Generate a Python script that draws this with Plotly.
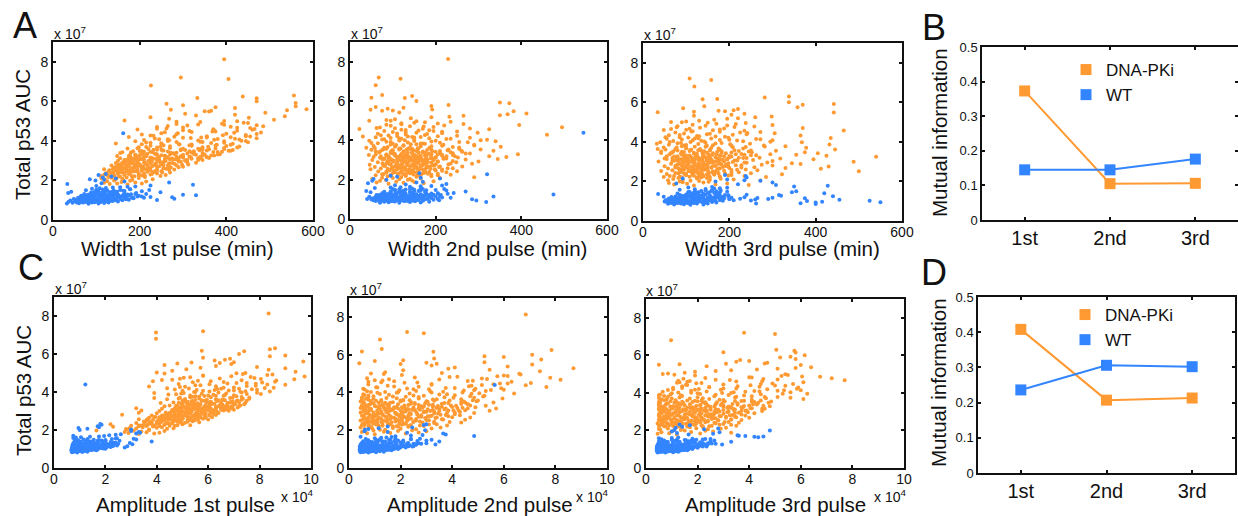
import plotly.graph_objects as go

W, H = 1238, 516
ORANGE, BLUE, INK = "#FF9A33", "#3385FF", "#111111"
FONT = "Liberation Sans"

# Shared y values (Total p53 AUC, x 10^7), one per cell
orange_auc = [
1.79,1.82,1.84,1.85,1.88,1.9,1.92,1.95,1.96,1.98,2.0,2.02,
2.03,2.05,2.06,2.08,2.09,2.1,2.12,2.14,2.15,2.17,2.18,2.2,
2.21,2.22,2.23,2.24,2.25,2.27,2.28,2.3,2.31,2.32,2.34,2.35,
2.36,2.37,2.38,2.4,2.41,2.42,2.43,2.45,2.46,2.47,2.48,2.5,
2.51,2.52,2.53,2.54,2.55,2.56,2.57,2.58,2.59,2.6,2.61,2.62,
2.63,2.64,2.65,2.66,2.67,2.68,2.69,2.7,2.71,2.72,2.73,2.74,
2.75,2.76,2.77,2.78,2.79,2.8,2.81,2.82,2.83,2.84,2.85,2.86,
2.87,2.88,2.89,2.9,2.91,2.92,2.93,2.94,2.95,2.96,2.97,2.98,
2.99,3.0,3.01,3.02,3.03,3.04,3.05,3.06,3.07,3.08,3.09,3.1,
3.11,3.12,3.13,3.14,3.15,3.16,3.17,3.18,3.19,3.2,3.21,3.22,
3.23,3.25,3.26,3.28,3.29,3.3,3.31,3.33,3.34,3.35,3.37,3.38,
3.4,3.42,3.44,3.45,3.47,3.48,3.5,3.52,3.53,3.55,3.57,3.58,
3.6,3.62,3.64,3.66,3.68,3.7,3.72,3.74,3.76,3.78,3.8,3.82,
3.84,3.87,3.9,3.92,3.95,3.98,4.0,4.03,4.06,4.08,4.11,4.14,
4.17,4.2,4.23,4.26,4.29,4.32,4.35,4.38,4.41,4.44,4.47,4.5,
4.53,4.57,4.6,4.63,4.67,4.7,4.74,4.78,4.82,4.86,4.9,4.95,
5.0,5.03,5.07,5.12,5.17,5.2,5.25,5.28,5.32,5.37,5.42,5.48,
5.5,5.52,5.55,5.57,5.6,5.66,5.7,5.75,5.8,5.88,5.92,6.0,
6.15,6.17,6.25,6.3,6.8,7.13,7.2,8.13,
2.205,2.215,2.225,2.235,2.245,2.26,2.275,2.29,2.305,2.325,2.345,2.355,
2.365,2.375,2.39,2.405,2.415,2.435,2.44,2.455,2.465,2.475,2.49,2.495,
2.505,2.515,2.525,2.535,2.545,2.555,2.565,2.575,2.585,2.595,2.605,2.615,
2.625,2.635,2.645,2.655,2.665,2.675,2.685,2.695,2.705,2.715,2.725,2.735,
2.745,2.755,2.765,2.775,2.785,2.795,2.805,2.815,2.825,2.835,2.845,2.855,
2.865,2.875,2.885,2.895,2.905,2.915,2.925,2.935,2.945,2.955,2.965,2.975,
2.985,2.995,3.005,3.015,3.025,3.035,3.045,3.055,3.065,3.075,3.085,3.095,
3.105,3.115,3.125,3.135,3.145,3.155,3.165,3.175,3.185,3.195,3.205,3.215,
3.225,3.24,3.255,3.27,3.285,3.3,3.315,3.33,3.345,3.36,3.375,3.39,
3.41,3.43,3.445,3.46,3.49,3.51,3.525,3.54,3.56,3.575,3.59,3.61,
3.015,3.03,3.05,3.07,3.09,3.105,3.125,3.14,3.155,3.17,3.19,3.205,
3.215,3.235,3.25,3.265,3.28,3.295,3.31,3.325,3.34,3.355,3.37,3.39,
3.405,3.42,3.435,3.455,3.47,3.49,3.505,3.52,3.54,3.555,3.57,3.59,
3.605,3.625,3.64,3.66,3.68,3.695,3.715,3.73,3.75,3.77,3.785,3.8,
3.82,3.835,3.855,3.875,3.89,3.91,3.925,3.945,3.96,3.98,3.995,4.01,
4.025,4.04,4.065,4.08,4.1,4.12,4.135,4.155,4.17,4.19,4.21,4.22,
4.24,4.27,4.3,4.33,4.36,4.39,4.42,4.45,4.48,4.51,4.54,4.56,
4.59,4.62,4.65,4.68,4.71,4.75,4.79,4.83,4.87,4.92,4.97,4.99]

orange_width1 = [
172,131,205,148,118,190,158,215,125,178,141,162,
183,120,230,146,160,112,198,135,170,212,128,152,
188,110,248,142,205,125,260,165,135,228,178,150,
210,122,165,270,138,232,155,128,192,250,172,145,
240,130,195,148,280,118,215,168,262,180,155,205,
165,225,140,272,190,158,300,208,150,245,175,198,
218,135,285,170,255,152,312,200,160,236,185,178,
268,145,212,330,162,248,195,295,180,228,175,220,
222,150,305,188,345,240,170,278,205,258,198,232,
290,155,228,360,192,265,318,175,245,340,210,215,
148,258,372,200,300,178,350,238,325,218,278,208,
272,160,380,210,315,185,405,252,338,232,295,360,
335,172,270,425,198,358,248,400,225,315,378,292,
290,145,395,215,345,190,445,268,372,245,420,318,
342,175,445,232,392,205,470,288,418,258,368,315,
372,195,465,262,425,240,485,310,395,285,450,340,
395,165,510,268,452,225,535,330,420,305,490,360,
350,365,540,272,585,420,375,560,300,262,560,470,
470,333,438,556,226,405,295,395,
155,182,128,212,140,198,165,118,225,175,150,240,
198,140,175,252,160,218,130,185,235,150,205,170,
178,225,148,268,195,160,240,138,210,185,255,170,
220,160,255,185,290,145,205,240,172,268,195,230,
202,265,175,235,155,298,190,250,215,165,280,225,
238,185,275,210,160,310,225,255,195,290,170,245,
260,195,305,225,175,335,245,285,210,270,185,320,
275,205,340,240,180,300,225,355,260,195,315,285,
295,215,365,250,190,330,270,385,235,310,205,345,
320,230,390,265,205,355,295,415,250,340,220,375,
245,165,310,200,285,180,335,225,265,190,355,300,
260,175,345,215,300,190,380,240,280,205,325,155,
285,180,370,225,325,200,410,255,305,240,345,395,
300,195,395,240,345,215,430,270,320,375,255,410,
320,205,415,250,365,225,450,285,340,395,265,435,
335,210,430,265,380,235,470,300,355,410,280,455,
355,225,445,285,400,250,480,320,375,425,300,460,
370,240,455,300,410,265,470,335,390,440,285,425]

orange_width2 = [
90,172,125,62,150,108,195,70,145,84,135,115,
140,52,165,100,210,75,290,120,155,88,190,130,
158,60,205,95,235,130,78,182,112,170,142,118,
176,85,225,120,66,148,250,102,200,135,92,160,
138,215,48,162,98,188,72,240,110,152,125,178,
128,208,58,155,262,105,180,82,168,145,192,118,
198,46,148,230,92,172,285,122,76,160,110,135,
152,248,65,178,100,300,130,205,88,168,118,142,
195,52,150,270,96,175,345,126,220,80,162,140,
165,70,252,138,365,112,190,90,325,148,215,122,
152,44,240,85,392,182,120,280,102,210,135,170,
160,262,60,192,335,98,228,132,305,78,145,118,
158,38,255,88,352,190,125,290,108,218,142,175,
165,50,275,95,340,200,128,320,80,235,115,150,
145,30,250,72,460,180,110,298,130,215,195,160,
130,22,280,62,495,172,95,395,120,205,150,235,
45,85,105,142,190,232,265,350,368,412,115,382,
75,100,48,192,88,125,60,190,230,372,350,155,
128,50,145,75,60,118,67,229,
130,95,165,112,190,148,75,125,205,140,100,172,
155,105,135,185,85,160,120,215,145,92,175,128,
140,170,110,198,130,88,158,118,228,150,100,180,
125,155,98,185,140,210,112,165,78,148,195,135,
168,120,145,95,200,132,175,108,235,152,85,190,
110,158,135,182,90,205,125,170,148,240,102,162,
145,98,175,122,195,155,80,138,218,165,112,188,
128,165,92,200,142,110,178,155,72,225,135,105,
175,118,150,85,205,132,185,100,240,160,68,145,
95,170,125,210,148,75,190,115,255,135,160,58,
110,180,75,225,135,90,200,160,55,120,245,150,
165,85,130,215,60,190,105,270,145,95,175,235,
125,200,70,155,260,100,180,50,230,140,85,115,
185,80,140,240,105,165,55,215,125,290,95,155,
100,170,65,210,135,255,85,190,150,45,115,305,
150,75,225,120,185,95,280,60,165,135,205,110,
90,175,130,65,215,155,100,250,80,185,120,325,
170,105,70,195,140,220,85,265,120,175,155,95]

orange_width3 = [
118,245,72,168,102,195,60,140,92,152,85,130,
110,272,58,155,92,210,70,180,125,148,82,135,
128,285,48,178,85,235,62,152,100,205,115,165,
138,322,55,190,95,250,75,160,112,222,125,172,
120,500,42,172,108,265,68,205,88,238,135,148,
125,412,58,175,82,330,98,228,140,258,150,198,
118,430,50,168,75,300,92,215,130,275,142,192,
132,365,65,180,85,345,105,240,120,288,155,208,
112,488,36,162,98,300,80,218,148,255,138,185,
128,395,55,175,78,318,95,232,112,270,150,200,
138,540,72,188,122,425,108,250,160,355,215,295,
125,405,42,182,68,375,90,245,142,308,155,212,
112,445,34,175,100,378,78,238,145,330,205,280,
100,432,32,168,88,368,62,232,135,300,200,262,
120,435,52,190,130,365,85,240,155,305,225,272,
112,465,48,178,108,370,78,258,145,300,215,238,
65,100,130,165,195,220,260,298,118,205,235,442,
34,118,190,175,210,220,93,358,142,370,442,338,
138,172,282,338,119,158,108,650,
125,90,155,108,178,140,72,118,198,132,98,165,
148,100,128,175,82,152,115,205,135,88,168,120,
135,162,105,188,125,85,150,112,218,142,95,172,
118,148,92,178,132,200,105,158,75,140,185,128,
160,112,138,90,192,125,168,100,228,145,80,182,
105,150,128,175,85,198,118,162,140,235,95,155,
138,92,168,115,188,148,72,130,212,158,105,180,
120,158,88,195,135,102,172,148,68,222,128,98,
168,110,142,80,200,125,178,95,235,152,62,138,
88,162,118,205,140,70,182,108,250,128,155,52,
100,175,68,218,130,85,195,150,50,115,240,145,
155,80,125,205,55,180,100,262,140,90,170,228,
118,192,65,148,252,95,172,42,222,135,80,110,
178,75,132,232,100,158,48,208,120,282,90,148,
95,162,60,202,128,248,80,182,145,40,110,295,
142,70,218,115,178,90,272,55,158,128,198,105,
85,168,125,60,208,148,95,242,75,178,115,235,
162,100,65,188,132,212,80,195,115,170,150,90]

orange_amp1 = [
3.3,3.9,2.9,4.1,3.6,2.75,3.4,4.3,3.1,1.65,3.7,2.85,
3.7,2.8,4.4,3.2,4.65,2.95,4.0,3.45,4.2,2.3,3.85,3.3,
3.9,3.0,4.7,3.4,5.3,3.65,4.3,2.2,5.0,4.1,4.5,3.75,
4.4,3.2,5.1,3.75,5.65,4.0,4.8,3.5,5.4,4.2,4.95,4.6,
4.9,3.6,5.5,4.1,6.0,3.3,5.2,4.5,5.8,4.3,4.7,5.0,
5.3,3.7,5.9,4.2,6.15,3.9,5.0,4.6,5.6,4.4,4.8,5.15,
5.4,3.8,6.05,4.3,6.3,2.65,5.1,4.7,5.7,4.5,4.9,5.25,
5.5,4.0,6.4,4.5,3.3,5.8,4.85,6.1,5.2,4.65,5.0,5.35,
5.6,4.1,6.8,4.6,3.4,6.2,4.95,6.5,5.3,4.8,5.9,5.45,
5.7,4.2,6.9,4.7,3.2,6.3,5.1,6.6,5.4,4.9,6.0,5.25,
5.85,4.3,7.2,4.8,4.5,6.45,5.2,6.75,5.55,5.0,7.0,6.15,
6.05,4.15,7.45,4.65,5.95,6.9,5.05,6.35,5.4,7.15,5.75,6.6,
6.3,4.4,7.6,4.85,3.9,6.95,5.3,7.3,5.65,5.5,6.6,6.0,
6.65,4.45,8.05,4.95,3.9,7.3,5.45,8.4,5.8,7.0,6.25,7.7,
6.5,4.4,8.55,4.9,3.7,7.5,5.5,9.0,6.05,7.85,7.1,8.1,
6.6,3.85,8.65,4.2,9.35,4.9,7.8,5.3,9.75,5.8,8.3,7.35,
7.45,4.0,9.4,4.6,8.35,5.15,9.0,5.7,7.9,6.3,4.3,6.9,
4.8,6.45,5.35,7.0,9.7,6.25,6.65,6.85,5.8,8.4,9.0,7.2,
7.4,5.75,8.4,8.6,3.97,3.97,5.8,8.35,
4.1,3.6,4.5,3.3,4.8,3.85,4.3,3.5,5.0,4.0,3.75,4.6,
4.4,3.8,4.9,4.15,3.55,5.2,4.0,4.65,3.7,5.4,4.3,4.8,
4.7,4.05,5.3,3.85,4.45,5.6,4.2,5.0,3.65,4.85,5.45,4.35,
5.0,4.3,4.55,5.7,4.1,5.25,3.95,4.75,5.9,4.45,5.5,4.9,
4.6,5.4,4.2,5.85,4.85,5.1,6.05,4.4,5.6,4.95,6.2,4.7,
5.3,4.5,5.9,4.85,6.2,5.55,4.35,5.1,6.35,4.7,5.75,5.25,
5.0,5.85,4.6,6.3,5.35,4.8,6.0,5.6,6.55,5.15,6.7,4.9,
5.55,4.75,6.1,5.2,6.5,5.8,4.95,6.3,5.4,6.75,5.65,6.95,
5.9,5.0,6.4,5.45,6.7,6.05,5.2,6.55,5.7,7.05,6.25,5.35,
5.6,6.5,5.15,6.85,6.1,5.35,7.1,5.85,6.65,5.5,7.3,6.3,
5.3,6.6,4.6,7.0,5.8,4.9,6.3,5.5,6.85,5.1,7.15,6.05,
6.3,5.05,6.9,5.6,4.75,7.25,5.9,6.55,5.3,7.4,6.15,4.95,
5.45,6.75,4.85,7.2,6.1,5.2,6.95,5.75,7.5,5.0,6.4,5.95,
6.55,5.1,7.35,5.65,6.85,4.9,7.6,6.1,5.4,7.1,5.85,6.3,
5.3,7.0,6.2,4.75,7.5,5.75,6.7,5.05,7.9,6.4,5.5,7.25,
6.05,7.45,5.0,6.8,5.55,7.9,4.7,6.35,7.2,5.25,8.2,6.6,
7.0,5.1,6.3,7.85,5.7,8.3,4.85,6.75,7.5,5.4,8.6,6.1,
5.6,7.3,4.6,8.05,6.45,5.05,7.65,6.9,5.8,8.5,4.3,7.1]

orange_amp2 = [
1.0,2.2,.7,1.6,2.7,.5,1.35,3.0,1.9,.95,2.45,1.2,
1.4,2.6,.6,2.0,3.2,.9,1.7,3.55,.45,1.15,2.3,1.9,
1.85,.75,2.9,1.3,3.8,.5,2.4,1.05,3.4,1.6,2.15,.95,
2.2,.55,3.3,1.1,4.35,1.65,3.9,.85,2.75,1.45,2.5,1.95,
2.05,.45,3.1,.95,4.5,1.5,3.65,.7,2.6,1.25,1.8,2.35,
2.25,.6,3.35,1.15,4.7,1.7,4.0,.9,2.8,1.4,1.95,3.05,
2.1,.5,3.2,1.05,4.3,1.55,3.75,.8,2.65,1.3,1.85,2.4,
2.35,.7,3.45,1.25,4.85,1.8,4.1,.45,2.9,1.5,2.05,2.6,
2.2,.55,3.3,1.1,5.45,1.6,3.85,4.5,.85,2.75,1.4,2.45,
2.3,.65,3.5,1.2,5.7,1.75,4.2,.45,2.85,1.5,4.9,2.05,
2.15,.5,3.25,1.0,5.3,1.55,3.95,.75,2.7,1.3,4.6,1.9,
2.4,.6,3.7,1.15,5.6,1.7,4.35,.45,3.0,.85,5.0,2.0,
2.1,.5,3.4,.95,5.95,1.45,4.05,.75,2.7,1.7,4.7,5.25,
2.5,.6,3.8,1.2,6.4,1.85,4.4,.85,3.15,5.3,4.85,6.0,
2.5,.55,4.1,1.1,7.65,1.75,4.75,6.85,3.2,5.6,6.15,7.05,
2.65,.75,4.6,1.3,8.2,1.55,5.15,7.8,3.9,5.75,6.0,6.65,
.85,3.6,1.4,7.4,2.1,5.45,3.85,8.7,4.1,6.15,3.2,7.1,
2.0,3.4,.4,3.0,5.25,1.0,2.1,7.45,3.3,6.0,5.25,7.1,
3.27,.5,7.85,1.27,1.2,2.9,2.25,6.85,
1.7,.85,2.3,1.15,2.75,1.5,.6,2.05,3.1,1.3,.75,1.95,
2.1,.95,1.5,2.85,.65,2.5,1.25,3.3,1.8,.8,2.25,1.05,
1.35,2.6,.7,1.9,3.0,1.1,2.3,.55,3.6,1.6,2.05,.9,
2.4,1.2,2.95,.75,1.75,3.4,1.45,2.15,.6,2.7,1.0,3.85,
1.6,3.15,.9,2.3,.55,2.8,1.3,3.55,2.0,1.05,4.1,1.85,
2.65,1.15,3.3,1.8,.65,2.35,3.8,.95,2.1,1.45,4.3,3.0,
1.25,2.9,.75,3.5,2.0,1.55,4.05,.6,2.55,1.7,3.25,2.2,
3.05,1.4,2.25,.85,3.75,1.9,2.7,.55,4.4,1.15,2.5,3.4,
1.85,3.6,1.05,2.9,.65,4.15,2.15,1.35,3.25,.8,4.6,2.55,
2.95,.95,3.85,1.6,2.4,.55,4.45,1.25,3.3,2.1,4.8,.75,
3.15,1.1,4.25,.6,2.45,3.7,1.6,.8,4.6,2.1,3.4,1.35,
1.75,4.0,.7,2.8,3.45,1.2,4.7,.5,2.3,3.1,1.5,4.35,
3.6,.85,2.55,1.4,4.5,.55,3.05,2.0,4.95,1.05,3.9,2.35,
1.25,3.25,4.35,.65,2.7,1.85,4.85,.5,3.7,2.2,5.2,.95,
2.9,.75,4.1,1.55,3.5,.55,4.75,2.35,5.05,1.1,3.2,1.9,
1.4,3.65,.7,2.6,4.45,1.95,5.5,.6,3.1,4.9,2.25,5.9,
3.75,1.05,2.7,4.65,1.5,5.15,.75,3.2,5.85,2.15,1.25,6.3,
1.75,4.8,1.0,3.5,5.35,.7,2.55,4.2,6.15,2.05,1.35,6.6]

orange_amp3 = [
1.2,.45,2.1,.9,3.3,.6,1.75,2.6,1.0,2.3,1.5,1.35,
1.1,.55,2.4,.5,2.9,.85,1.95,3.1,1.4,1.7,2.2,1.2,
1.3,.7,2.45,.5,3.5,.9,2.15,3.3,1.05,1.85,3.0,1.6,
1.55,.45,2.7,.8,3.6,1.0,2.1,3.2,.6,1.9,2.4,1.35,
1.75,.65,2.8,.5,3.7,1.2,2.25,3.3,.95,2.0,2.55,1.45,
1.6,.55,2.6,.8,4.0,1.1,2.15,3.5,1.35,1.9,3.1,2.4,
1.8,.7,2.85,.5,3.85,1.25,2.3,3.35,1.0,2.05,1.5,2.55,
1.55,.5,2.65,.8,4.2,1.05,2.1,3.6,1.3,1.85,3.15,2.35,
1.7,.6,2.8,.9,4.5,1.15,2.25,3.9,1.45,2.0,3.4,2.5,
1.55,.5,2.7,.75,4.6,1.0,2.15,4.1,1.3,1.9,3.3,3.75,
1.8,.65,3.0,.95,4.8,1.2,2.4,4.0,1.5,2.1,3.55,2.7,
1.7,.5,2.95,.8,4.75,1.1,2.3,4.2,1.4,2.0,3.45,3.8,
1.6,.55,2.85,.8,6.1,1.0,2.2,5.6,1.3,4.6,3.5,4.1,
1.4,.5,2.7,.95,6.25,2.0,3.3,5.6,3.85,4.4,5.1,6.0,
1.9,1.05,3.0,1.4,5.9,2.45,3.55,5.4,4.05,1.55,4.45,4.9,
2.15,1.3,3.5,1.7,7.7,2.7,4.55,7.2,4.1,6.75,5.25,5.5,
.65,.85,1.5,1.9,2.7,3.3,4.3,5.1,5.8,6.4,2.35,6.0,
.5,1.3,3.1,4.6,4.7,3.5,4.0,3.65,5.8,5.2,5.6,6.15,
5.8,3.0,5.75,5.05,.97,5.0,3.8,10.8,
1.6,.75,2.2,1.05,2.55,1.4,.55,1.9,2.85,1.2,.65,1.75,
1.95,.85,1.4,2.65,.6,2.3,1.15,3.05,1.65,.7,2.05,1.0,
1.25,2.4,.65,1.75,2.8,1.0,2.15,.5,3.3,1.5,1.9,.8,
2.2,1.1,2.7,.7,1.6,3.1,1.35,1.95,.55,2.5,.9,3.45,
1.5,2.9,.8,2.1,.5,2.6,1.2,3.25,1.8,.95,3.7,1.7,
2.45,1.05,3.0,1.65,.6,2.15,3.45,.85,1.9,1.3,3.95,2.75,
1.15,2.65,.7,3.2,1.85,1.4,3.7,.55,2.35,1.55,3.0,2.0,
2.8,1.25,2.05,.8,3.4,1.75,2.5,.5,4.05,1.05,2.3,3.15,
1.7,3.3,.95,2.65,.6,3.8,1.95,1.2,3.0,.75,4.3,2.35,
2.7,.85,3.55,1.45,2.2,.5,4.1,1.15,3.05,1.9,4.45,.7,
2.85,.9,3.85,.6,2.1,3.45,1.45,.7,4.5,1.85,3.2,1.2,
1.6,3.7,.65,2.5,3.2,1.05,4.55,.5,2.1,2.9,1.35,4.15,
3.35,.8,2.3,1.25,4.35,.55,2.75,1.8,4.85,.95,3.7,2.15,
1.15,3.0,4.1,.6,2.45,1.7,4.65,.5,3.45,2.0,5.1,.85,
2.65,.7,3.8,1.35,3.2,.55,4.45,2.1,5.3,1.0,2.95,1.75,
1.25,3.4,.65,2.35,4.2,1.75,5.35,.85,2.9,4.7,2.05,5.85,
3.5,1.05,2.45,4.4,1.4,5.0,1.6,3.0,5.7,1.95,1.2,6.1,
1.6,4.5,1.25,3.25,5.1,1.45,2.3,4.0,6.05,1.9,1.1,5.4]

blue_auc = [
.82,.83,.84,.85,.86,.87,.88,.88,.89,.89,.9,.9,.91,.91,
.92,.92,.93,.93,.94,.94,.95,.95,.96,.96,.97,.97,.98,.98,
.99,.99,1.0,1.0,1.01,1.01,1.02,1.02,1.03,1.03,1.04,1.04,1.05,1.05,
1.06,1.06,1.07,1.07,1.08,1.08,1.09,1.09,1.1,1.1,1.11,1.11,1.12,1.12,
1.13,1.13,1.14,1.14,1.15,1.15,1.16,1.16,1.17,1.18,1.18,1.19,1.2,1.2,
1.21,1.22,1.23,1.24,1.25,1.26,1.27,1.28,1.29,1.3,1.31,1.32,1.33,1.34,
1.35,1.36,1.37,1.39,1.4,1.42,1.43,1.45,1.46,1.48,1.5,1.52,1.54,1.56,
1.58,1.6,1.62,1.64,1.66,1.68,1.7,1.72,1.75,1.78,1.82,1.86,1.9,1.95,
2.0,2.03,2.06,2.1,2.15,2.2,2.28,2.32,4.39,
.905,.915,.925,.935,.945,.955,.965,.975,.985,.995,.91,.93,.95,.97,
1.005,1.015,1.025,1.035,1.045,1.055,1.065,1.075,1.01,1.03,1.05,1.07,1.02,1.04,
1.085,1.095,1.105,1.115,1.125,1.135,1.145,1.155,1.09,1.11,1.13,1.15,1.1,1.14,
1.165,1.175,1.185,1.195,1.205,1.215,1.225,1.235,1.245,1.17,1.19,1.21,1.23,1.25,
1.255,1.265,1.275,1.285,1.295,1.305,1.315,1.325,1.335,1.345,1.26,1.28,1.3,1.32,
1.38,1.4,1.41,1.43,1.44,1.46,1.47,1.49,1.5,1.52,1.53,1.55,1.41,1.45]

blue_width1 = [
82,32,105,60,118,45,90,70,128,55,95,68,110,78,
98,36,125,60,150,72,105,50,138,85,66,112,90,78,
105,40,160,68,240,92,55,130,74,175,80,145,118,86,
114,48,170,76,280,100,62,142,95,186,88,156,128,210,
124,58,185,84,275,138,70,225,96,168,78,205,110,152,
134,65,198,92,330,150,80,300,106,180,72,215,120,165,
130,35,192,88,248,145,42,205,100,162,76,222,115,178,
90,108,122,138,155,172,190,100,225,323,33,112,268,165,
98,118,85,145,115,135,105,122,162,
88,62,105,75,118,55,132,95,68,145,82,110,72,125,
100,58,122,78,140,65,155,90,112,72,168,85,130,50,
108,75,128,88,148,62,165,98,118,80,182,70,138,92,
118,85,140,72,158,95,175,105,128,90,195,112,150,80,
128,92,150,105,172,85,190,115,138,100,162,120,145,110,
112,130,95,148,120,165,105,140,125,155,100,178,135,118]

blue_width2 = [
115,70,165,90,318,140,80,185,105,72,152,95,128,135,
98,60,170,78,295,145,88,208,120,72,155,110,195,132,
112,50,158,72,285,135,40,205,92,182,80,125,148,100,
118,55,168,75,235,142,65,215,95,190,85,130,155,105,
110,45,160,68,335,135,80,210,90,185,100,175,148,125,
130,62,180,85,475,155,78,228,108,205,95,242,120,145,
128,48,175,80,270,150,38,225,105,200,115,220,140,165,
58,95,118,140,165,190,215,105,130,225,42,155,170,52,
85,55,210,165,110,95,320,162,545,
102,68,125,85,148,60,172,110,78,138,92,118,55,160,
115,62,140,88,165,70,190,105,130,78,155,98,178,50,
125,72,148,95,172,60,200,108,135,82,160,118,188,68,
138,80,158,102,185,68,212,118,145,90,170,128,195,75,
128,88,150,105,178,75,205,118,140,95,165,130,190,110,
115,140,95,160,125,178,105,150,130,170,100,145,120,165]

blue_width3 = [
110,72,140,95,400,58,125,262,88,150,365,105,80,118,
108,60,145,78,400,170,92,550,125,55,415,100,68,132,
105,50,160,70,380,140,88,525,122,185,250,80,210,130,
112,55,178,75,455,152,95,260,132,200,290,85,225,120,
118,62,180,82,375,158,100,265,138,205,300,90,235,125,
115,48,175,75,440,155,95,320,135,198,315,85,240,125,
128,35,172,80,420,150,105,345,108,195,355,135,180,160,
85,120,145,165,178,195,105,160,350,428,308,220,77,300,
168,272,235,195,92,240,238,190,650,
98,65,118,82,138,58,160,105,75,128,88,112,72,148,
108,60,130,85,155,68,178,98,122,75,145,92,168,52,
118,70,142,90,165,60,188,102,130,80,155,112,178,68,
128,78,150,98,172,66,198,112,140,88,162,122,185,105,
135,90,155,110,178,85,190,120,145,100,168,130,175,115,
140,115,165,125,178,105,155,135,170,120,160,145,172,128]

blue_amp1 = [
.9,.7,1.1,.75,1.3,.8,.95,.72,1.2,.85,1.0,.78,.88,.68,
1.0,.7,1.35,.8,1.65,.9,1.2,.75,1.5,1.1,.85,1.05,.95,.68,
1.2,.72,1.65,.82,2.0,.95,1.5,.88,1.9,1.08,1.35,1.15,1.8,1.4,
1.3,.7,1.75,.85,2.75,1.0,2.05,.78,1.6,1.15,2.2,1.45,1.9,1.25,
1.38,.72,1.85,.9,2.85,1.05,2.3,1.0,1.7,1.2,2.45,1.55,2.15,2.0,
1.5,.75,2.1,.88,3.05,1.1,2.5,.8,1.9,1.3,2.95,1.7,2.4,2.3,
1.5,.8,2.2,1.0,3.8,1.25,2.55,.95,2.0,1.75,3.2,1.3,3.1,2.45,
.75,.85,1.05,1.4,1.75,1.95,.75,2.15,2.4,2.6,3.2,3.35,3.3,3.0,
1.0,3.0,1.3,.95,1.75,1.7,1.85,1.8,1.22,
.95,.72,1.25,.85,1.45,.75,1.6,1.05,.78,1.35,.9,1.15,.72,1.7,
1.1,.72,1.4,.88,1.65,.78,1.9,1.2,.92,1.5,1.0,1.75,.75,1.3,
1.25,.75,1.55,.95,1.8,.72,2.1,1.35,.85,1.65,1.05,1.95,.8,2.25,
1.4,.78,1.7,1.0,2.0,.72,2.3,1.15,.9,1.85,1.25,2.15,.82,1.55,
1.45,.8,1.75,1.05,2.05,.75,2.35,1.2,.9,1.9,1.35,2.2,.85,1.6,
1.05,1.45,.8,1.7,1.25,2.0,.9,1.55,1.15,2.25,.85,2.4,1.35,1.85]

blue_amp2 = [
.75,.45,1.05,.55,1.35,.65,.85,.5,1.2,.6,.95,.42,.7,.9,
.9,.45,1.35,.6,1.65,.75,1.05,.5,1.5,.65,1.2,.42,.8,1.0,
1.0,.42,1.75,.55,1.9,.7,1.4,.65,1.55,.85,1.2,.95,1.1,1.3,
1.2,.45,1.8,.6,2.2,.8,1.6,.7,2.0,1.0,1.4,.5,1.1,1.5,
1.3,.5,1.9,.7,2.5,.9,1.7,.6,2.3,1.1,2.1,1.0,1.5,1.4,
1.3,.45,2.05,.65,3.35,.85,2.6,.95,2.8,1.05,3.0,1.55,2.3,1.8,
1.3,.55,2.1,.8,3.5,1.05,2.65,.7,3.0,1.55,3.2,1.2,2.4,1.8,
1.0,1.25,1.45,1.65,.45,1.8,4.85,2.4,2.85,3.75,3.65,2.25,1.5,.6,
2.95,.62,.75,1.15,2.45,1.5,2.9,3.0,5.65,
.8,.45,1.1,.6,1.4,.42,1.6,.95,.55,1.25,.7,1.05,.5,1.5,
1.0,.45,1.35,.65,1.7,.5,1.95,1.15,.75,1.5,.85,1.8,.42,1.25,
1.2,.5,1.6,.75,1.95,.42,2.3,1.35,.6,1.75,.9,2.1,.55,2.45,
1.35,.55,1.75,.8,2.2,.45,2.6,1.05,.65,2.0,1.2,2.35,.7,1.55,
1.45,.6,1.85,.85,2.25,.48,2.7,1.1,.7,2.0,1.3,2.5,.75,1.65,
.9,1.4,.55,1.75,1.15,2.1,.75,1.6,1.05,2.4,.65,2.75,1.3,1.9]

blue_amp3 = [
.75,.45,1.05,.55,1.25,.65,.85,.5,1.15,.6,.95,.42,.7,.8,
.9,.45,1.35,.6,1.6,.75,1.05,.5,1.45,.65,1.2,.42,.8,1.0,
1.0,.42,1.65,.55,1.8,.7,1.3,.62,1.5,.85,1.15,.95,1.1,1.25,
1.2,.45,1.7,.6,2.0,.8,1.55,.7,1.85,1.0,1.4,.5,1.1,1.5,
1.3,.5,1.9,.7,2.35,.9,1.7,.6,2.2,1.1,2.05,1.0,1.5,1.4,
1.3,.45,2.0,.65,2.95,.85,2.4,1.6,2.7,1.05,2.55,1.55,2.2,1.8,
1.3,.55,2.1,.8,3.3,1.05,2.5,.7,2.65,1.55,1.95,1.2,2.3,1.8,
.5,1.0,1.25,4.35,4.2,4.55,3.85,3.6,3.55,1.65,2.6,1.2,2.85,1.0,
4.8,1.1,2.25,2.8,1.15,1.4,1.7,1.3,10.8,
.75,.45,1.0,.6,1.3,.42,1.5,.9,.55,1.15,.65,1.05,.5,1.4,
.95,.45,1.25,.6,1.55,.5,1.8,1.1,.7,1.4,.8,1.65,.42,1.2,
1.1,.48,1.5,.7,1.8,.42,2.05,1.25,.6,1.65,.85,1.95,.52,2.2,
1.25,.5,1.65,.75,2.0,.45,2.35,1.0,.62,1.85,1.15,2.15,.68,1.45,
1.35,.55,1.7,.8,2.05,.48,2.4,1.05,.65,1.9,1.2,2.25,.72,1.55,
.85,1.3,.5,1.65,1.1,1.9,.7,1.5,1.0,2.2,.6,2.5,1.2,1.75]

pulses = ["1st", "2nd", "3rd"]
mi_width_dnapki = [0.373, 0.105, 0.106]
mi_width_wt = [0.145, 0.145, 0.176]
mi_amp_dnapki = [0.408, 0.207, 0.213]
mi_amp_wt = [0.236, 0.306, 0.302]
mi_ticks = [0, 0.1, 0.2, 0.3, 0.4, 0.5]
mi_ticktext = ["0", "0.1", "0.2", "0.3", "0.4", "0.5"]
auc_ticks = [0, 2, 4, 6, 8]
width_ticks = [0, 200, 400, 600]
amp_ticks = [0, 2, 4, 6, 8, 10]


def px(x): return x / W
def py(y): return 1 - y / H


fig = go.Figure()
anns = []


def note(x, y, text, size, angle=0, anchor="center"):
    anns.append(dict(xref="paper", yref="paper", x=px(x), y=py(y), text=text, showarrow=False,
                     textangle=angle, xanchor=anchor, yanchor="middle",
                     font=dict(family=FONT, size=size, color=INK)))


def style_axes(i, box, xrange, xticks, yrange, yticks, yticktext=None, xticktext=None, lw=2):
    x0, x1, y0, y1 = box
    sfx = "" if i == 1 else str(i)
    common = dict(ticks="inside", ticklen=3, tickwidth=1.5, tickcolor=INK, showline=True, mirror="ticks",
                  linecolor=INK, linewidth=lw, showgrid=False, zeroline=False, automargin=False,
                  tickfont=dict(family=FONT, size=14, color=INK))
    fig.update_layout({
        "xaxis" + sfx: dict(domain=[px(x0), px(x1)], range=xrange, tickvals=xticks, ticktext=xticktext,
                            anchor="y" + sfx, ticklabelstandoff=-3, **common),
        "yaxis" + sfx: dict(domain=[py(y1), py(y0)], range=yrange, tickvals=yticks, ticktext=yticktext,
                            anchor="x" + sfx, **common),
    })


def scatter_panel(i, box, xo, xb, xrange, xticks):
    sfx = "" if i == 1 else str(i)
    assert len(xo) == len(orange_auc) and len(xb) == len(blue_auc), (i, len(xo), len(xb))
    fig.add_trace(go.Scatter(x=xo, y=orange_auc, mode="markers", xaxis="x" + sfx, yaxis="y" + sfx,
                             marker=dict(size=4, color=ORANGE), showlegend=False))
    fig.add_trace(go.Scatter(x=xb, y=blue_auc, mode="markers", xaxis="x" + sfx, yaxis="y" + sfx,
                             marker=dict(size=4, color=BLUE), showlegend=False))
    style_axes(i, box, xrange, xticks, [0, 9], auc_ticks)


scatter_panel(1, (53, 313, 42, 220), orange_width1, blue_width1, [0, 600], width_ticks)
scatter_panel(2, (350, 607, 42, 219), orange_width2, blue_width2, [0, 600], width_ticks)
scatter_panel(3, (643, 902, 43, 221), orange_width3, blue_width3, [0, 600], width_ticks)
scatter_panel(4, (54, 311, 297, 468), orange_amp1, blue_amp1, [0, 10], amp_ticks)
scatter_panel(5, (349, 607, 298, 468), orange_amp2, blue_amp2, [0, 10], amp_ticks)
scatter_panel(6, (646, 904, 299, 468), orange_amp3, blue_amp3, [0, 10], amp_ticks)


def mi_panel(i, box, dna, wt, legend_name, legend_xy):
    sfx = str(i)
    for vals, color in ((dna, ORANGE), (wt, BLUE)):
        fig.add_trace(go.Scatter(x=pulses, y=vals, mode="lines", xaxis="x" + sfx, yaxis="y" + sfx,
                                 line=dict(color=color, width=2), showlegend=False))
    for vals, color, name in ((dna, ORANGE, "DNA-PKi"), (wt, BLUE, "WT")):
        fig.add_trace(go.Scatter(x=pulses, y=vals, mode="markers", name=name, xaxis="x" + sfx, yaxis="y" + sfx,
                                 marker=dict(size=11, color=color, symbol="square"), legend=legend_name))
    style_axes(i, box, [-0.5, 2.5], [0, 1, 2], [0, 0.5], mi_ticks, mi_ticktext, pulses, lw=1.5)
    fig.update_layout({
        "xaxis" + sfx: dict(type="category", tickfont=dict(family=FONT, size=20, color=INK), ticklabelstandoff=-1),
        "yaxis" + sfx: dict(tickfont=dict(family=FONT, size=13, color=INK)),
        legend_name: dict(x=px(legend_xy[0]), y=py(legend_xy[1]), xanchor="left", yanchor="top",
                          bgcolor="rgba(0,0,0,0)", borderwidth=0, font=dict(family=FONT, size=17, color=INK),
                          itemclick=False, itemdoubleclick=False),
    })


mi_panel(7, (982, 1238, 47, 220), mi_width_dnapki, mi_width_wt, "legend", (1066, 52))
mi_panel(8, (978, 1235, 297, 473), mi_amp_dnapki, mi_amp_wt, "legend2", (1065, 297))

# Panel letters
note(25, 26, "A", 36)
note(934, 28, "B", 36)
note(31, 267, "C", 36)
note(934, 272, "D", 36)

# Axis titles
note(177, 249, "Width 1st pulse (min)", 20.5)
note(487, 249, "Width 2nd pulse (min)", 20.5)
note(782, 249, "Width 3rd pulse (min)", 20.5)
note(185, 504, "Amplitude 1st pulse", 20.5)
note(480, 504, "Amplitude 2nd pulse", 20.5)
note(775, 504, "Amplitude 3rd pulse", 20.5)
note(22, 135, "Total p53 AUC", 20.5, angle=-90)
note(23, 391, "Total p53 AUC", 20.5, angle=-90)
note(939, 133, "Mutual information", 20.5, angle=-90)
note(938, 383, "Mutual information", 20.5, angle=-90)

# Axis multipliers
exp7 = "x 10<sup>7</sup>"
exp4 = "x 10<sup>4</sup>"
note(52, 33, exp7, 14, anchor="left")
note(349, 33, exp7, 14, anchor="left")
note(642, 34, exp7, 14, anchor="left")
note(53, 288, exp7, 14, anchor="left")
note(348, 289, exp7, 14, anchor="left")
note(644, 290, exp7, 14, anchor="left")
note(279, 496, exp4, 14, anchor="left")
note(574, 496, exp4, 14, anchor="left")
note(872, 496, exp4, 14, anchor="left")

fig.update_layout(template="none", width=W, height=H, autosize=False, margin=dict(l=0, r=0, t=0, b=0, autoexpand=False),
                  paper_bgcolor="white", plot_bgcolor="white", annotations=anns,
                  font=dict(family=FONT, color=INK))

fig.write_html("out.html", config={"displayModeBar": False},
               post_script="document.body.style.margin='0';document.documentElement.style.overflow='hidden';")
